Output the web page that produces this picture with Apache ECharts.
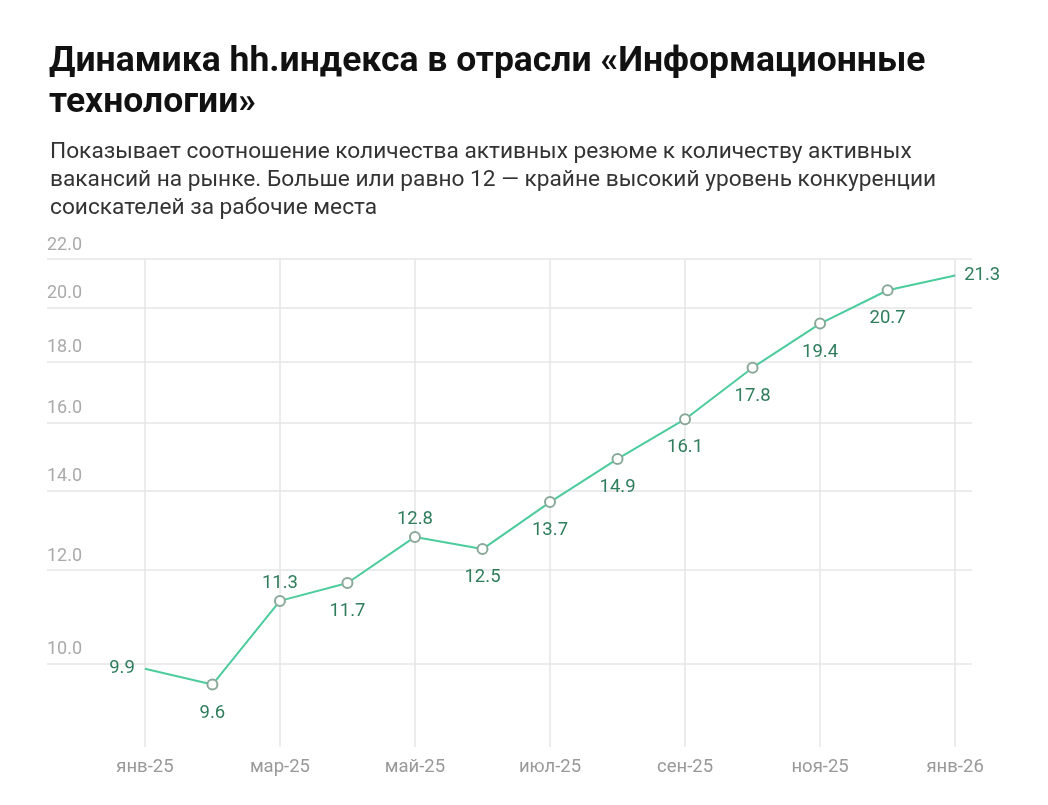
<!DOCTYPE html>
<html>
<head>
<meta charset="utf-8">
<script src="https://cdn.jsdelivr.net/npm/echarts@6/dist/echarts.min.js"></script>
<style>
  html, body { margin: 0; padding: 0; background: #fff; }
  #chart { width: 1048px; height: 805px; }
</style>
</head>
<body>
<div id="chart"></div>
<script>
// Data
const months = ['янв-25', 'фев-25', 'мар-25', 'апр-25', 'май-25', 'июн-25', 'июл-25',
  'авг-25', 'сен-25', 'окт-25', 'ноя-25', 'дек-25', 'янв-26']
const hhIndex = [9.9, 9.6, 11.3, 11.7, 12.8, 12.5, 13.7, 14.9, 16.1, 17.8, 19.4, 20.7, 21.3]
const yTicks = [10, 12, 14, 16, 18, 20, 22]
const xTicks = [0, 2, 4, 6, 8, 10, 12]

const titleText = 'Динамика hh.индекса в отрасли «Информационные\nтехнологии»'
const subText = 'Показывает соотношение количества активных резюме к количеству активных\n' +
  'вакансий на рынке. Больше или равно 12 — крайне высокий уровень конкуренции\n' +
  'соискателей за рабочие места'

const chart = echarts.init(document.getElementById('chart'))

// labels above the point for these indices, the rest go below
const labelsAbove = [2, 4]
const last = hhIndex.length - 1

const seriesData = hhIndex.map((v, i) => {
  const item = { value: [i, v] }
  if (i === 0) {
    item.symbolSize = 0.1
    item.label = { position: 'left', distance: 9 }
  } else if (i === last) {
    item.symbolSize = 0.1
    item.label = { position: 'right', distance: 8 }
  } else if (labelsAbove.includes(i)) {
    item.label = { position: 'top', distance: 2 }
  }
  return item
})

const options = {
  animation: false,
  textStyle: { fontFamily: 'Roboto' },
  title: [
    {
      text: titleText,
      left: 44,
      top: 37,
      textStyle: { fontSize: 35.5, fontWeight: 'bold', color: '#111', lineHeight: 41, fontFamily: 'Roboto' }
    },
    {
      text: subText,
      left: 45,
      top: 133,
      textStyle: { fontSize: 22.7, fontWeight: 'normal', color: '#333', lineHeight: 28, fontFamily: 'Roboto' }
    }
  ],
  grid: { left: 47, right: 76, top: 259, bottom: 58 },
  xAxis: {
    type: 'value',
    min: -1.45,
    max: 12.25,
    axisLine: { show: false },
    axisTick: { show: false, customValues: xTicks },
    axisLabel: {
      customValues: xTicks,
      formatter: v => months[v],
      color: '#999',
      fontSize: 18.5,
      margin: 11
    },
    splitLine: { show: true, lineStyle: { color: '#e6e6e6', width: 1.5 } }
  },
  yAxis: {
    type: 'log',
    min: 8.5,
    max: 22,
    axisLine: { show: false },
    axisTick: { show: false, customValues: yTicks },
    axisLabel: {
      customValues: yTicks,
      inside: true,
      align: 'left',
      verticalAlign: 'bottom',
      padding: [0, 0, 5, 0],
      margin: 0,
      formatter: v => Number(v).toFixed(1),
      color: '#aaa',
      fontSize: 18
    },
    splitLine: { show: true, lineStyle: { color: '#e6e6e6', width: 1.5 } }
  },
  series: [
    {
      type: 'line',
      data: seriesData,
      symbol: 'emptyCircle',
      symbolSize: 10,
      showAllSymbol: true,
      lineStyle: { color: '#4ccb9c', width: 2 },
      itemStyle: { color: '#8aa89a', borderWidth: 1 },
      label: {
        show: true,
        position: 'bottom',
        distance: 13,
        color: '#2f7d5c',
        fontSize: 18.5,
        formatter: p => p.value[1].toFixed(1)
      }
    }
  ]
}

chart.setOption(options)
</script>
</body>
</html>
